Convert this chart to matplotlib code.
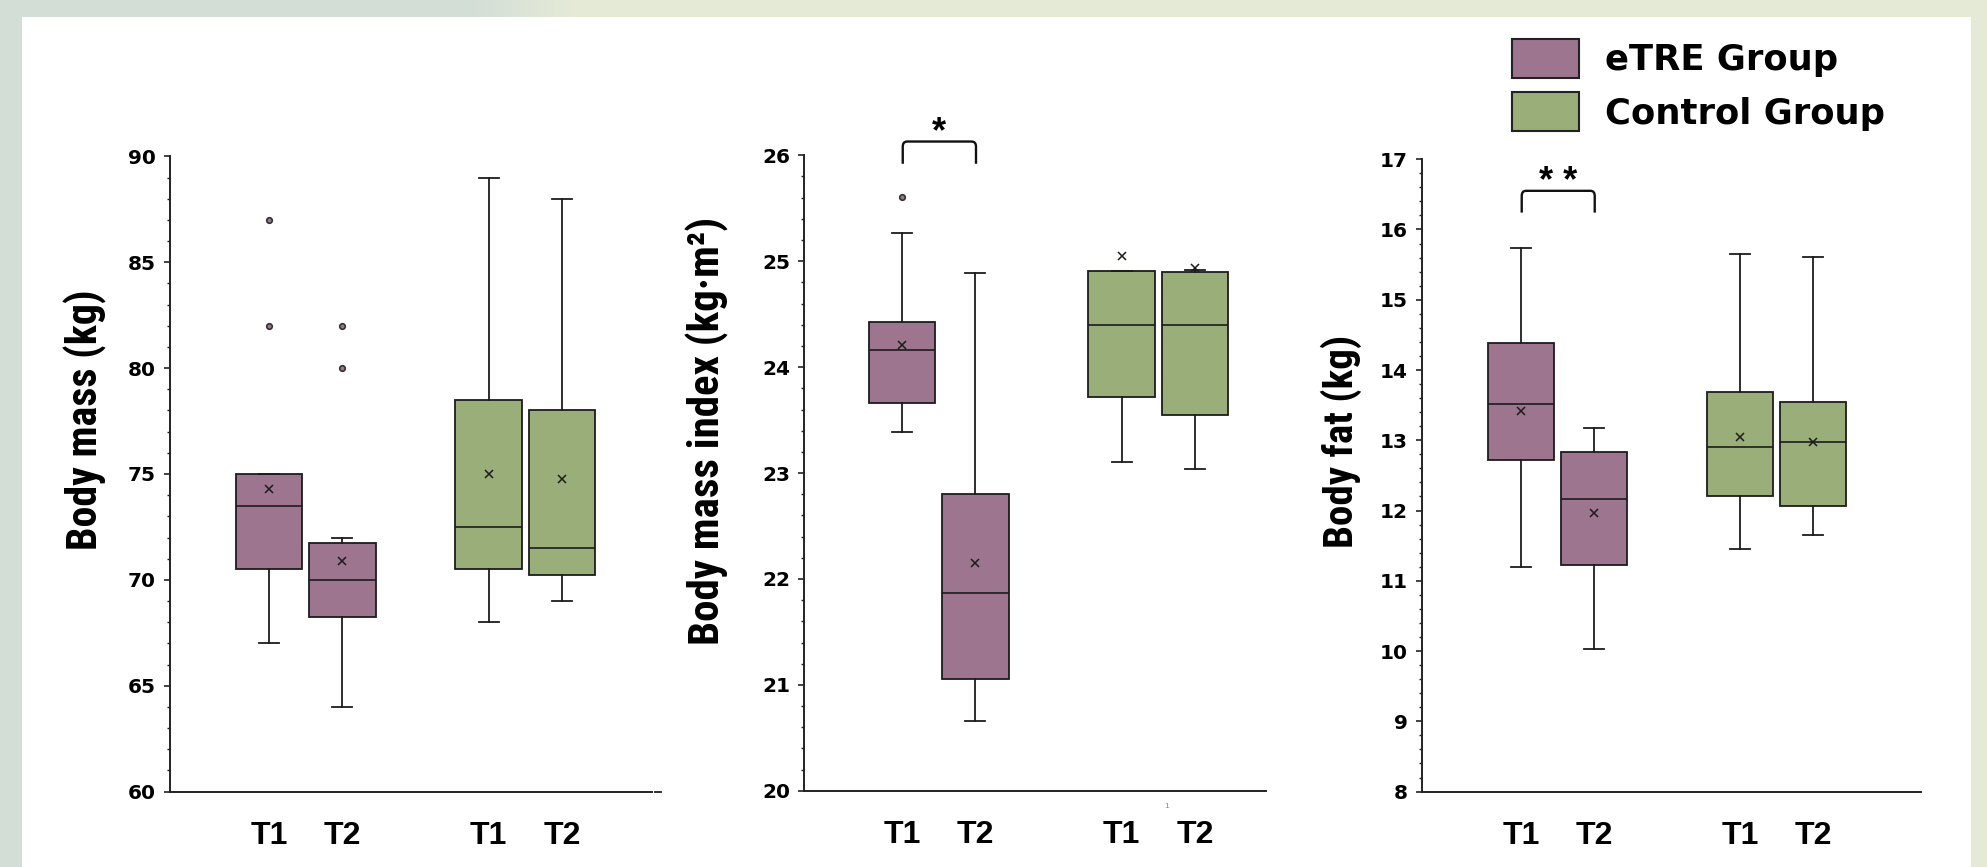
import numpy as np
import matplotlib
matplotlib.use('Agg')
import matplotlib.pyplot as plt
from matplotlib import font_manager as fm
from matplotlib.font_manager import FontProperties
from matplotlib.patches import Patch, Rectangle, PathPatch
from matplotlib.path import Path
from matplotlib.ticker import MultipleLocator

# ---------------- data ----------------
time_labels = ['T1', 'T2', 'T1', 'T2']
group_names = ['eTRE Group', 'Control Group']
box_groups = [0, 0, 1, 1]  # which group each box belongs to

# Body mass (kg)
mass_q1 = [70.5, 68.25, 70.5, 70.25]
mass_med = [73.5, 70.0, 72.5, 71.5]
mass_q3 = [75.0, 71.75, 78.5, 78.0]
mass_lo = [67.0, 64.0, 68.0, 69.0]
mass_hi = [75.0, 72.0, 89.0, 88.0]
mass_mean = [74.3, 70.9, 75.0, 74.75]
mass_fliers = [[82, 87], [80, 82], [], []]

# Body mass index (kg·m2)
bmi_q1 = [23.66, 21.06, 23.72, 23.55]
bmi_med = [24.16, 21.87, 24.40, 24.40]
bmi_q3 = [24.43, 22.80, 24.91, 24.90]
bmi_lo = [23.39, 20.66, 23.10, 23.04]
bmi_hi = [25.27, 24.89, 24.91, 24.92]
bmi_mean = [24.21, 22.15, 25.05, 24.94]
bmi_fliers = [[25.61], [], [], []]

# Body fat (kg)
fat_q1 = [12.72, 11.23, 12.21, 12.07]
fat_med = [13.52, 12.17, 12.90, 12.97]
fat_q3 = [14.38, 12.84, 13.68, 13.55]
fat_lo = [11.19, 10.03, 11.45, 11.65]
fat_hi = [15.73, 13.18, 15.65, 15.61]
fat_mean = [13.42, 11.97, 13.04, 12.98]
fat_fliers = [[], [], [], []]

# significance annotations: (label, bracket top, bracket leg bottom)
sig_bmi = ('*', 26.13, 25.92)
sig_fat = ('* *', 16.55, 16.24)

# ---------------- style ----------------
W, H = 1987, 867
purple = '#9e758f'
green = '#9aae79'
group_colors = [purple, green]
edge = '#1c1c1c'

plt.rcParams['font.family'] = ['Liberation Sans', 'DejaVu Sans']
plt.rcParams['font.weight'] = 'bold'


def pick_font(prefs):
    for name in prefs:
        for f in fm.fontManager.ttflist:
            if f.name == name and str(f.weight) in ('700', 'bold') and 'Italic' not in f.fname \
                    and 'Oblique' not in f.fname:
                return FontProperties(fname=f.fname)
    return None


label_fp = pick_font(['Liberation Sans Narrow', 'Roboto Condensed', 'PT Sans Narrow',
                      'Open Sans Condensed', 'IBM Plex Sans Condensed'])
if label_fp is None:
    label_fp = FontProperties(family='Liberation Sans', weight='bold')

fig = plt.figure(figsize=(W / 100, H / 100), dpi=100)

# background with soft gradient and white panel
bg = fig.add_axes([0, 0, 1, 1], zorder=-10)
bg.axis('off')
xs = np.arange(W)
t = np.clip((xs - 470) / 100.0, 0, 1)
c0 = np.array([211, 222, 215]) / 255
c1 = np.array([228, 234, 214]) / 255
grad = (c0[None, :] * (1 - t[:, None]) + c1[None, :] * t[:, None])[None, :, :]
bg.imshow(grad, extent=[0, W, 0, H], aspect='auto')
bg.add_patch(Rectangle((22, 0), 1971 - 22, H - 17, facecolor='white', edgecolor='none'))
bg.set_xlim(0, W)
bg.set_ylim(0, H)


def px_rect(x0, x1, ytop, ybot):
    return [x0 / W, (H - ybot) / H, (x1 - x0) / W, (ybot - ytop) / H]


positions = [0, 1, 3, 4]

panels = [
    dict(rect=px_rect(170, 652, 156.4, 791.6), ylim=(60, 90), major=5, minor=1,
         xlim=(-1.352, 5.229), q1=mass_q1, med=mass_med, q3=mass_q3, lo=mass_lo,
         hi=mass_hi, mean=mass_mean, fliers=mass_fliers,
         ylabel='Body mass (kg)', lab_xy=(-0.176, 0.585), lab_len=260, sig=None),
    dict(rect=px_rect(804, 1266, 155.3, 790.8), ylim=(20, 26), major=1, minor=0.2,
         xlim=(-1.338, 4.969), q1=bmi_q1, med=bmi_med, q3=bmi_q3, lo=bmi_lo,
         hi=bmi_hi, mean=bmi_mean, fliers=bmi_fliers,
         ylabel='Body mass index (kg\u00b7m\u00b2)', lab_xy=(-0.21, 0.566), lab_len=428,
         sig=sig_bmi),
    dict(rect=px_rect(1422, 1921, 159.2, 791.6), ylim=(8, 17), major=1, minor=0.2,
         xlim=(-1.356, 5.479), q1=fat_q1, med=fat_med, q3=fat_q3, lo=fat_lo,
         hi=fat_hi, mean=fat_mean, fliers=fat_fliers,
         ylabel='Body fat (kg)', lab_xy=(-0.162, 0.554), lab_len=213, sig=sig_fat),
]

axes = []
ylabels = []
for p in panels:
    ax = fig.add_axes(p['rect'])
    ax.set_facecolor('none')
    stats = []
    for i in range(4):
        stats.append(dict(q1=p['q1'][i], med=p['med'][i], q3=p['q3'][i],
                          whislo=p['lo'][i], whishi=p['hi'][i], mean=p['mean'][i],
                          fliers=np.array(p['fliers'][i], dtype=float),
                          label=time_labels[i]))
    res = ax.bxp(stats, positions=positions, widths=0.91, capwidths=0.27,
                 patch_artist=True, showmeans=True, showfliers=True,
                 boxprops=dict(linewidth=1.3, edgecolor=edge),
                 whiskerprops=dict(linewidth=1.3, color=edge),
                 capprops=dict(linewidth=1.3, color=edge),
                 medianprops=dict(linewidth=1.2, color=edge),
                 meanprops=dict(marker='x', markeredgecolor=edge, markersize=6,
                                markeredgewidth=1.1, linestyle='none'),
                 flierprops=dict(marker='o', markersize=4.0, markerfacecolor=purple,
                                 markeredgecolor='#333333', markeredgewidth=1.2))
    for bx, g in zip(res['boxes'], box_groups):
        bx.set_facecolor(group_colors[g])
    for fl, g in zip(res['fliers'], box_groups):
        fl.set_markerfacecolor(group_colors[g])

    ax.set_xlim(*p['xlim'])
    ax.set_ylim(*p['ylim'])
    ax.set_xticks(positions)
    ax.set_xticklabels(time_labels)
    ax.yaxis.set_major_locator(MultipleLocator(p['major']))
    ax.yaxis.set_minor_locator(MultipleLocator(p['minor']))
    for s in ['top', 'right']:
        ax.spines[s].set_visible(False)
    for s in ['left', 'bottom']:
        ax.spines[s].set_linewidth(1.4)
        ax.spines[s].set_color('#222222')
    ax.tick_params(axis='x', length=0, pad=21, labelsize=23)
    ax.tick_params(axis='y', which='major', direction='out', length=4, width=1.2,
                   pad=6, labelsize=14.5, color='#222222', labelfontfamily='DejaVu Sans')
    ax.tick_params(axis='y', which='minor', direction='out', length=2.5, width=1.0,
                   color='#222222')
    for lab in ax.get_xticklabels() + ax.get_yticklabels():
        lab.set_fontweight('bold')

    yl = ax.set_ylabel(p['ylabel'], fontproperties=label_fp, fontsize=30, va='center')
    ax.yaxis.set_label_coords(*p['lab_xy'])
    ylabels.append(yl)

    if p['sig'] is not None:
        txt, ytop, ybot = p['sig']
        x0, x1 = positions[0] + 0.01, positions[1] + 0.01
        rx = 0.06
        ry = (p['ylim'][1] - p['ylim'][0]) * 0.008
        verts = [(x0, ybot), (x0, ytop - ry), (x0, ytop), (x0 + rx, ytop),
                 (x1 - rx, ytop), (x1, ytop), (x1, ytop - ry), (x1, ybot)]
        codes = [Path.MOVETO, Path.LINETO, Path.CURVE3, Path.CURVE3,
                 Path.LINETO, Path.CURVE3, Path.CURVE3, Path.LINETO]
        ax.add_patch(PathPatch(Path(verts, codes), fill=False, lw=1.7,
                               edgecolor='#111111', clip_on=False, capstyle='butt'))
        ax.annotate(txt, xy=((x0 + x1) / 2, ytop), xytext=(0, -1),
                    textcoords='offset pixels', ha='center', va='baseline',
                    fontsize=26, fontweight='bold', annotation_clip=False)
    axes.append(ax)

# small stray marks present in the original figure
axes[0].plot([1.007, 1.019], [0, 0], transform=axes[0].transAxes, color='#333333',
             lw=1.4, clip_on=False)
fig.text(1166.7 / W, 1 - 806 / H, '1', fontsize=6, color='#888888',
         ha='center', va='center', fontweight='normal')

# fit y-label lengths to the original
fig.canvas.draw()
r = fig.canvas.get_renderer()
for yl, p in zip(ylabels, panels):
    h = yl.get_window_extent(r).height
    yl.set_fontsize(30 * p['lab_len'] / h)

# legend
handles = [Patch(facecolor=c, edgecolor='#222222', linewidth=1.5, label=n)
           for c, n in zip(group_colors, group_names)]
fig.legend(handles=handles, loc='upper left', bbox_to_anchor=(1512 / W, 1 - 39 / H),
           frameon=False,
           prop=FontProperties(family='DejaVu Sans', weight='bold', size=25.5),
           handlelength=1.88, handleheight=1.3, handletextpad=0.75,
           labelspacing=0.42, borderpad=0, borderaxespad=0)

fig.savefig('out.png', dpi=100)
